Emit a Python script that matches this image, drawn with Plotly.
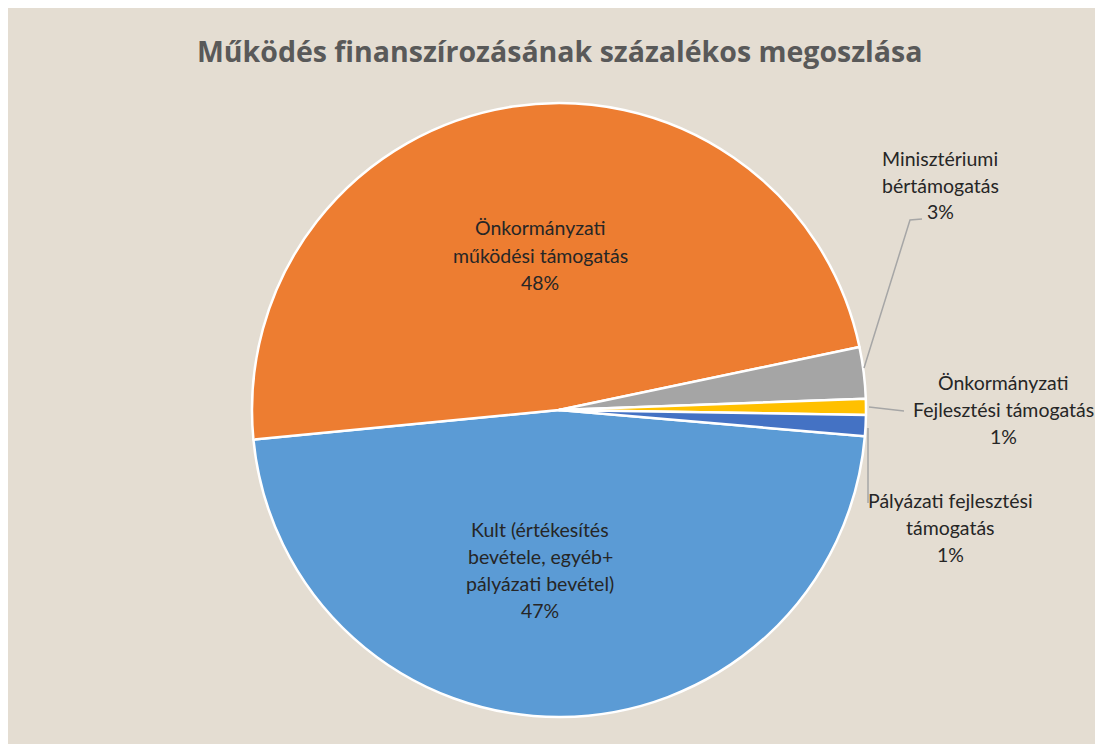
import plotly.graph_objects as go

# data (Excel order, clockwise)
labels = [
    "Kult (értékesítés\nbevétele, egyéb+\npályázati bevétel)",
    "Önkormányzati\nműködési támogatás",
    "Minisztériumi\nbértámogatás",
    "Önkormányzati\nFejlesztési támogatás",
    "Pályázati fejlesztési\ntámogatás",
]
values = [47.1, 48.25, 2.7, 0.85, 1.1]
colors = ["#5B9BD5", "#ED7D31", "#A5A5A5", "#FFC000", "#4472C4"]

# label centres in pixels (x, y from top of figure)
label_pos = [(532, 562), (532, 247), (932, 177), (995, 401), (942, 519)]

W, H = 1103, 744
FONT = "Lato, 'Open Sans', sans-serif"
BG = "#e4ddd2"

fig = go.Figure(go.Pie(
    labels=[l.replace("\n", " ") for l in labels],
    values=values,
    sort=False,
    direction="clockwise",
    rotation=94.9,
    marker=dict(colors=colors, line=dict(color="white", width=2.5)),
    textinfo="none",
    hoverinfo="label+percent",
    domain=dict(x=[244 / W, 858 / W], y=[1 - 712 / H, 1 - 92 / H]),
    showlegend=False,
))

total = sum(values)
annotations = []
for lab, v, (cx, cy) in zip(labels, values, label_pos):
    lines = lab.split("\n") + [f"{round(v / total * 100)}%"]
    n = len(lines)
    for i, line in enumerate(lines):
        y = cy + (i - (n - 1) / 2) * 27
        annotations.append(dict(
            x=cx / W, y=1 - y / H, xref="paper", yref="paper",
            text=line, showarrow=False, xanchor="center", yanchor="middle",
            font=dict(family=FONT, size=19.5, color="#262626"),
        ))

annotations.append(dict(
    x=551 / W, y=1 - 43 / H, xref="paper", yref="paper",
    text="<b>Működés finanszírozásának százalékos megoszlása</b>",
    showarrow=False, xanchor="center", yanchor="middle",
    font=dict(family="'Open Sans', sans-serif", size=28.5, color="#595959"),
))


def px_line(pts):
    path = "M " + " L ".join(f"{x / W},{1 - y / H}" for x, y in pts)
    return dict(type="path", path=path, xref="paper", yref="paper",
                line=dict(color="#a6a6a6", width=1.5))


shapes = [
    px_line([(856, 360), (902, 212), (914, 211)]),
    px_line([(861, 399), (896, 403)]),
    px_line([(860, 420), (860, 495)]),
]

fig.update_layout(
    width=W, height=H,
    margin=dict(l=0, r=0, t=0, b=0),
    paper_bgcolor=BG,
    annotations=annotations,
    shapes=shapes,
)

fig.write_html("out.html")
